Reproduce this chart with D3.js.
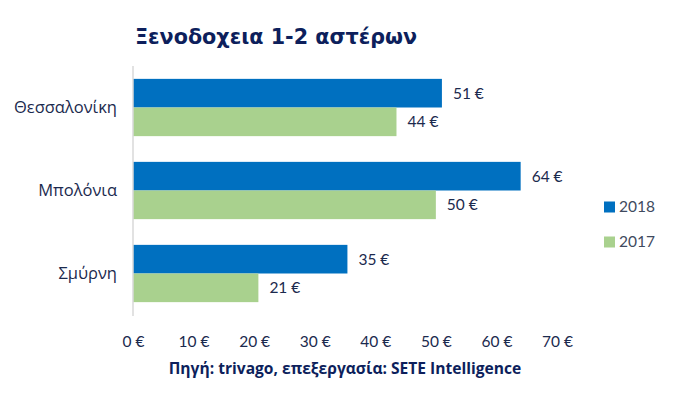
<!DOCTYPE html>
<html><head><meta charset="utf-8">
<script src="https://cdn.jsdelivr.net/npm/d3@7"></script>
<style>body{margin:0;background:#fff}</style>
</head><body><svg id="c" width="678" height="405"></svg>
<script>
const categories = ["Θεσσαλονίκη", "Μπολόνια", "Σμύρνη"];
const seriesNames = ["2018", "2017"];
const values2018 = [51, 64, 35.4];
const values2017 = [43.5, 50, 20.7];
const tickValues = [0, 10, 20, 30, 40, 50, 60, 70];
const title = "Ξενοδοχεια 1-2 αστέρων";
const source = "Πηγή: trivago, επεξεργασία: SETE Intelligence";
const colors = ["#0070c0", "#a9d18e"];

const svg = d3.select("#c");
const textColor = "#1b2a4e";
const x = d3.scaleLinear().domain([0, 70]).range([133, 557]);
const y0 = d3.scaleBand().domain(categories).range([66, 315]).paddingInner(0.31).paddingOuter(0.155);
const y1 = d3.scaleBand().domain(seriesNames).range([0, y0.bandwidth()]);

svg.append("text").attr("x", 135).attr("y", 44).text(title)
  .attr("font-family", "DejaVu Sans").attr("font-weight", "bold").attr("font-size", 20.7)
  .attr("fill", "#0d1f5c");

const data = categories.map((c, i) => ({c, vals: [values2018[i], values2017[i]]}));
const g = svg.append("g");
data.forEach(d => {
  d.vals.forEach((v, j) => {
    const yy = y0(d.c) + y1(seriesNames[j]);
    g.append("rect").attr("x", x(0)).attr("y", yy).attr("width", x(v) - x(0)).attr("height", y1.bandwidth())
      .attr("fill", colors[j]);
    g.append("text").attr("x", x(v) + 11).attr("y", yy + y1.bandwidth() / 2).attr("dy", "0.35em")
      .text(d3.format(".0f")(v) + " €").attr("font-family", "Lato").attr("font-size", 15.5).attr("fill", textColor);
  });
});

// y axis line
svg.append("line").attr("x1", x(0)).attr("x2", x(0)).attr("y1", 66).attr("y2", 316)
  .attr("stroke", "#d9d9d9").attr("stroke-width", 1.5);

// category labels
categories.forEach(c => {
  svg.append("text").attr("x", 117).attr("y", y0(c) + y0.bandwidth() / 2).attr("dy", "0.35em")
    .attr("text-anchor", "end").text(c).attr("font-family", "Open Sans").attr("font-size", 16.5).attr("fill", textColor);
});

// x axis tick labels
const xAxis = d3.axisBottom(x).tickValues(tickValues).tickFormat(d => d + " €").tickSize(0);
const ax = svg.append("g").attr("transform", "translate(0,333)").call(xAxis);
ax.select(".domain").remove();
ax.selectAll("text").attr("font-family", "Lato").attr("font-size", 15.5).attr("fill", textColor);

// source
svg.append("text").attr("x", 345).attr("y", 369).attr("dy", "0.35em").attr("text-anchor", "middle")
  .text(source).attr("font-family", "Open Sans").attr("font-weight", "bold").attr("font-size", 15.6).attr("fill", "#0d1f5c");

// legend
seriesNames.forEach((s, i) => {
  const ly = 207 + i * 35;
  svg.append("rect").attr("x", 604).attr("y", ly - 5.5).attr("width", 11).attr("height", 11).attr("fill", colors[i]);
  svg.append("text").attr("x", 619).attr("y", ly).attr("dy", "0.35em").text(s)
    .attr("font-family", "Lato").attr("font-size", 15.5).attr("fill", "#404a5e");
});
</script></body></html>
